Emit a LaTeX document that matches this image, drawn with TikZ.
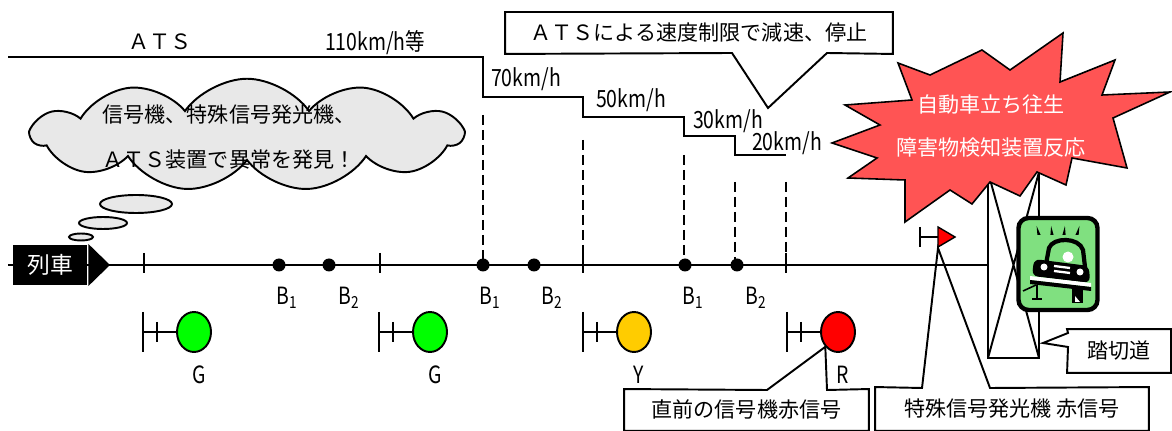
\documentclass[tikz,border=0pt]{standalone}
\usepackage{fontspec}
\setmainfont{Noto Sans CJK JP}
\newfontfamily\narrowfont[FakeStretch=0.82]{Noto Sans CJK JP}
\usetikzlibrary{shapes.symbols,shapes.geometric,backgrounds}

\definecolor{sigGreen}{HTML}{00FF00}
\definecolor{sigYellow}{HTML}{FFCC00}
\definecolor{sigRed}{HTML}{FF0000}
\definecolor{burstRed}{HTML}{FF5454}
\definecolor{iconGreen}{HTML}{80E080}
\definecolor{cloudGray}{HTML}{E8E8E8}

\begin{document}
\begin{tikzpicture}[x=0.02cm, y=-0.02cm, line width=1.1pt,
    lbl/.style={font=\narrowfont\fontsize{13.5}{15}\selectfont, inner sep=0pt},
    jp/.style={font=\fontsize{12}{14}\selectfont, inner sep=0pt},
    callbox/.style={jp, minimum height=0.8cm},
    guide/.style={dash pattern=on 0.2cm off 0.1cm},
    lamp/.style={ellipse, draw, minimum width=0.68cm, minimum height=0.8cm, inner sep=0pt},
    bubble/.style={draw, fill=cloudGray},
    outline/.style={draw, fill=white, line width=1.1pt}]
\useasboundingbox (0,0) rectangle (1172,431);

% 速度制限パターン
\draw (8,57) -- (483,57) -- (483,97) -- (583,97) -- (583,117) -- (684,117)
  -- (684,136) -- (735,136) -- (735,155) -- (786,155);
\node[jp] (atsname) at (160,42) {ＡＴＳ};
\node[lbl] (v110) at (375,43) {110km/h等};
\node[lbl] (v70) at (526,79) {70km/h};
\node[lbl] (v50) at (631,100) {50km/h};
\node[lbl] (v30) at (728,121) {30km/h};
\node[lbl] (v20) at (787,143) {20km/h};

\node[callbox, minimum width=7.72cm] (atsbox) at (699,33) {ＡＴＳによる速度制限で減速、停止};
\coordinate (atstip) at (768,108);
\begin{scope}[on background layer]
  \path[outline] (atsbox.north west) -- (atsbox.north east) -- (atsbox.south east)
    -- (827,53) -- (atstip) -- (732,53) -- (atsbox.south west) -- cycle;
\end{scope}

% 運転士の吹き出し
\node[cloud, draw, fill=cloudGray, cloud puffs=11, cloud puff arc=110, cloud ignores aspect,
  minimum width=8.6cm, minimum height=2.25cm] (thought) at (247,135) {};
\node[jp, align=center] (thoughttext) at (229,137) {信号機、特殊信号発光機、\\[12pt]ＡＴＳ装置で異常を発見！};
\draw[bubble] (136,204) ellipse (0.72cm and 0.18cm);
\draw[bubble] (103,223) ellipse (0.48cm and 0.12cm);
\draw[bubble] (81,237) ellipse (0.24cm and 0.07cm);

% 線路
\foreach \x/\y in {483/115, 583/140, 684/155, 735/182, 786/182}
  \draw[guide] (\x,\y) -- (\x,265);
\draw (8,265) -- (988,265);
\foreach \x in {144,380,583,786}
  \draw (\x,253) -- (\x,273);
\foreach \x in {279,329,483,534,685,737}
  \fill (\x,265) circle (0.13cm);
\foreach \x/\n [count=\i] in {287/1,349/2,490/1,552/2,693/1,756/2}
  \node[lbl] (blabel\i) at (\x,298) {B\textsubscript{\n}};

\node[fill=black, text=white, font=\fontsize{13}{15}\selectfont, minimum width=1.5cm,
  minimum height=0.8cm, inner sep=0pt] (train) at (50,265) {列車};
\coordinate (nose) at (110,265);
\fill (train.north east) -- (nose) -- (train.south east) -- cycle;

% 信号機
\foreach \x/\col/\asp [count=\i] in {143/sigGreen/G,379/sigGreen/G,583/sigYellow/Y,787/sigRed/R}{
  \draw (\x,312) -- (\x,352);
  \draw (\x+14,322) -- (\x+14,342);
  \node[lamp, fill=\col] (sig\i) at (\x+51,332) {};
  \draw (\x,332) -- (sig\i);
  \node[lbl] (asp\i) at (\x+56,375) {\asp};
}

% 踏切
\draw (988,172) -- (988,358) -- (1039,358) -- (1039,172);
\draw (988,172) -- (1039,358) (1039,172) -- (988,358);

% 特殊信号発光機
\draw (920,227) -- (920,247);
\draw (920,237) -- (938,237);
\filldraw[fill=sigRed, line width=0.8pt] (938,227) -- (955,237) -- (938,247) -- cycle;
\coordinate (tokutip) at (938,248);

% 立ち往生した自動車
\node[draw, line width=2.5pt, rounded corners=0.2cm, fill=iconGreen, minimum width=1.58cm,
  minimum height=1.84cm] (caricon) at (1058,264) {};
\foreach \x/\t in {1039/-8,1052/-3,1064/3,1077/8}
  \fill (\x-1.6,235) -- (\x+\t*0.3,226) -- (\x+1.6,235) -- cycle;
\draw[line width=2.4pt, fill=iconGreen] (1046,264) -- (1049,248) .. controls (1053,237) and (1079,237) .. (1083,250) -- (1085,267);
\fill[white] (1068,257) circle (0.11cm);
\fill[rounded corners=0.12cm] (1034,259) -- (1089,266) -- (1090,283) -- (1032,276) -- cycle;
\fill[white] (1044,267) circle (0.07cm) (1080,272) circle (0.07cm);
\draw[white, line width=1.3pt] (1054,266) -- (1070,268) (1054,271) -- (1070,273);
\fill[white] (1030,276) -- (1091,283) -- (1091,287) -- (1030,280) -- cycle;
\fill (1030,280) -- (1091,287) -- (1091,291) -- (1030,284) -- cycle;
\fill (1072,289) rectangle (1083,303);
\fill[white] (1075,296) -- (1080,302) -- (1075,302) -- cycle;
\draw[line width=0.9pt] (1023,291) -- (1036,285);
\draw[line width=0.9pt] (1037,285) -- (1037,299) (1032,299) -- (1042,299);

% 障害物検知
\filldraw[fill=burstRed, line width=0.9pt] (898,63) -- (930,75) -- (982,50) -- (1010,70) -- (1063,33)
  -- (1060,82) -- (1115,60) -- (1102,95) -- (1170,92) -- (1113,118) -- (1127,168)
  -- (1072,158) -- (1066,185) -- (1037,172) -- (1020,196) -- (990,182) -- (972,204)
  -- (950,190) -- (905,222) -- (905,180) -- (848,178) -- (877,158) -- (832,143)
  -- (880,125) -- (845,105) -- (912,100) -- cycle;
\node[jp, text=white, align=center] (bursttext) at (991,126) {自動車立ち往生\\[10pt]障害物検知装置反応};

% 引き出し
\node[callbox, minimum width=4.86cm] (redbox) at (746.5,410) {直前の信号機赤信号};
\node[callbox, minimum width=5.44cm, minimum height=0.84cm] (tokubox) at (1012,409) {特殊信号発光機 赤信号};
\node[callbox, minimum width=2.04cm, minimum height=0.84cm] (fumibox) at (1119,351) {踏切道};
\coordinate (fumitip) at (1043,343);
\begin{scope}[on background layer]
  \path[outline] (redbox.south west) -- (redbox.north west) -- (767,390) -- (sig4.south west)
    -- (827,390) -- (redbox.north east) -- (redbox.south east) -- cycle;
  \path[outline] (tokubox.south west) -- (tokubox.north west) -- (922,388) -- (tokutip)
    -- (990,388) -- (tokubox.north east) -- (tokubox.south east) -- cycle;
  \path[outline] (fumibox.north west) -- (fumibox.north east) -- (fumibox.south east)
    -- (fumibox.south west) -- (1068,347) -- (fumitip) -- (1068,333) -- cycle;
\end{scope}
\end{tikzpicture}
\end{document}
